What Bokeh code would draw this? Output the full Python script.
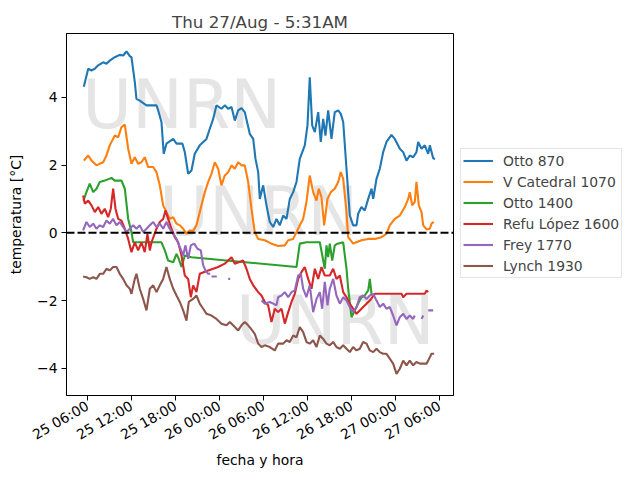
import numpy as np
from bokeh.plotting import figure
from bokeh.layouts import row, column
from bokeh.models import (Range1d, FixedTicker, DatetimeTickFormatter, Span, Legend,
                          LegendItem, CustomJSTickFormatter, Spacer)
from bokeh.core.properties import value
from bokeh.embed import file_html
from bokeh.resources import INLINE

TITLE = "Thu 27/Aug - 5:31AM"
BASE = np.datetime64("2020-08-25T00:00")
# times are hours since 25/Aug 00:00
names = ["Otto 870", "V Catedral 1070", "Otto 1400", "Refu López 1600", "Frey 1770", "Lynch 1930"]
colors = ["#1f77b4", "#ff7f0e", "#2ca02c", "#d62728", "#9467bd", "#8c564b"]

otto870_h = [5.50, 6.10, 6.55, 7.00, 7.46, 8.14, 8.59, 9.04, 9.72, 10.40, 10.87, 11.32, 11.77, 12.00, 12.45,
             12.68, 13.13, 14.05, 15.41, 15.64, 16.09, 16.40, 16.77, 17.69, 18.14, 18.95, 19.27, 19.73, 20.18,
             20.63, 21.31, 22.23, 22.68, 23.14, 23.59, 24.27, 24.72, 25.19, 25.64, 26.09, 26.55, 27.00, 27.45,
             28.13, 28.60, 28.91, 29.28, 29.50, 29.96, 30.41, 30.86, 31.32, 31.77, 32.22, 32.69, 33.14, 33.59,
             34.05, 34.50, 34.95, 35.63, 36.00, 36.31, 36.64, 37.00, 37.46, 37.81, 38.14, 38.45, 38.82, 39.27,
             39.72, 40.19, 40.54, 40.87, 41.32, 41.77, 42.23, 42.68, 42.91, 43.36, 43.81, 44.28, 44.73, 44.96,
             45.41, 45.86, 46.32, 46.77, 47.45, 47.90, 48.59, 49.05, 49.50, 49.95, 50.41, 50.86, 51.09, 51.55,
             52.00, 52.46, 52.68, 53.14, 53.39]
otto870_v = [4.31, 4.84, 4.79, 4.84, 4.94, 5.03, 4.99, 5.08, 5.18, 5.25, 5.23, 5.35, 5.21, 5.18, 4.45,
             3.95, 3.90, 3.76, 3.76, 3.61, 3.27, 2.33, 2.63, 2.77, 2.63, 2.63, 2.38, 1.74, 1.84,
             2.33, 2.58, 2.77, 3.07, 3.36, 3.76, 3.66, 3.76, 3.66, 3.71, 3.31, 3.61, 3.68, 3.56,
             2.92, 2.77, 2.18, 1.79, 1.00, 1.40, 0.81, 0.32, 0.17, 0.41, 0.22, 0.51, 0.41, 1.00,
             1.20, 1.50, 2.18, 2.58, 3.17, 4.59, 3.17, 2.97, 3.56, 2.68, 3.36, 2.87, 3.61, 2.77,
             3.56, 3.61, 3.51, 3.27, 1.89, 0.51, 0.22, 0.22, 0.56, 0.76, 0.66, 1.00, 1.30, 1.00,
             1.59, 1.89, 2.38, 2.68, 2.89, 2.77, 2.48, 2.38, 2.13, 2.28, 2.23, 2.38, 2.68, 2.48,
             2.58, 2.33, 2.58, 2.20, 2.18]

catedral_h = [5.50, 6.10, 6.55, 7.23, 7.68, 8.14, 8.59, 9.04, 9.72, 10.19, 10.64, 11.09, 11.55, 12.00, 12.45,
              12.91, 13.36, 13.81, 14.28, 14.96, 15.41, 15.86, 16.32, 16.77, 17.22, 17.69, 18.14, 18.59, 19.05,
              19.50, 19.95, 20.41, 20.86, 21.31, 22.00, 22.46, 22.91, 23.36, 23.82, 24.27, 24.72, 25.19, 25.64,
              26.09, 26.55, 27.00, 27.45, 27.91, 28.36, 28.81, 29.28, 30.18, 31.09, 32.00, 32.91, 33.37, 34.05,
              34.50, 34.95, 35.41, 35.86, 36.31, 36.77, 37.23, 37.54, 37.91, 38.27, 38.73, 39.18, 39.72, 40.19,
              40.54, 40.87, 41.32, 41.55, 42.23, 42.68, 43.36, 44.28, 45.18, 46.09, 46.77, 47.22, 47.90, 48.59,
              49.27, 49.73, 49.95, 50.28, 50.63, 50.86, 51.18, 51.55, 51.78, 52.23, 52.68, 52.91, 53.22]
catedral_v = [2.13, 2.28, 2.13, 1.99, 2.04, 2.08, 2.28, 2.58, 2.87, 2.82, 3.12, 3.19, 2.48, 2.04, 2.23,
              2.04, 2.08, 2.23, 1.94, 1.94, 1.79, 1.40, 0.81, 0.61, 0.41, 0.46, 0.27, 0.22, 0.12,
              -0.03, 0.07, 0.05, 0.22, 0.61, 1.20, 1.50, 1.74, 2.08, 1.89, 1.40, 1.69, 1.79, 1.99,
              1.89, 2.08, 1.99, 1.99, 1.50, 0.71, 0.02, -0.18, -0.22, -0.32, -0.39, -0.37, -0.22, -0.18,
              0.02, 0.22, 0.41, 0.91, 1.69, 1.20, 0.95, 1.30, 1.05, 0.22, 1.00, 1.20, 1.30, 1.50,
              1.79, 1.59, 0.61, -0.13, -0.32, -0.28, -0.22, -0.18, -0.18, -0.13, -0.03, 0.22, 0.41, 0.51,
              0.76, 1.00, 1.20, 0.81, 0.91, 1.50, 0.81, 0.61, 0.22, 0.10, 0.12, 0.27, 0.32]

otto1400_h = [5.45, 5.86, 6.31, 6.78, 7.23, 7.68, 8.36, 9.27, 9.72, 10.64, 11.09, 11.55, 12.00, 12.23, 13.36,
              16.09, 16.55, 17.00, 17.69, 18.14, 18.45, 18.82, 19.27, 20.18, 34.50, 34.95, 35.86, 37.68, 38.36,
              38.59, 38.82, 39.04, 39.37, 39.72, 40.09, 40.87, 41.32, 41.55, 42.00, 42.45, 42.91, 43.36, 43.81,
              44.28, 44.50, 44.73]
otto1400_v = [0.95, 1.20, 1.45, 1.20, 1.30, 1.50, 1.54, 1.62, 1.54, 1.54, 1.30, 0.41, 0.02, -0.28, -0.28,
              -0.28, -0.52, -0.82, -0.87, -0.62, -0.77, -1.01, -0.67, -0.72, -1.01, -0.32, -0.28, -0.28, -1.06,
              -0.37, -0.72, -0.32, -0.82, -0.37, -0.32, -0.28, -1.06, -1.65, -2.49, -2.29, -2.09, -1.90, -1.85,
              -1.70, -1.36, -1.80]

lopez_h = [5.41, 5.63, 6.10, 6.55, 7.00, 7.46, 7.91, 8.36, 8.82, 9.18, 9.50, 9.82, 10.19, 10.64, 11.09,
           11.55, 12.00, 12.45, 12.91, 13.36, 13.81, 14.18, 14.50, 14.73, 15.41, 15.86, 16.32, 16.64, 17.00,
           17.45, 17.90, 18.37, 18.82, 19.27, 19.73, 20.09, 20.41, 20.86, 21.31, 22.46, 23.82, 24.72, 25.64,
           26.09, 27.23, 27.68, 28.13, 28.60, 29.28, 29.73, 30.18, 30.64, 31.09, 31.54, 32.00, 32.45, 32.91,
           33.37, 33.82, 34.27, 34.73, 35.18, 35.63, 36.09, 36.55, 37.00, 37.46, 37.91, 38.36, 39.04, 39.50,
           39.95, 40.41, 40.87, 41.32, 41.77, 42.23, 42.68, 43.13, 43.59, 44.05, 44.50, 45.18, 48.82, 49.05,
           49.50, 52.00, 52.23, 52.46]
lopez_v = [1.10, 0.86, 0.95, 0.81, 0.61, 0.76, 0.56, 0.71, 0.46, 0.71, 1.30, 0.71, 0.41, 0.36, 0.12,
           -0.18, -0.57, -0.28, -0.52, -0.28, -0.57, -0.03, -0.52, -0.28, 0.12, 0.32, 0.41, 0.66, 0.41,
           0.12, -0.13, -0.28, -0.67, -1.26, -1.36, -1.90, -1.55, -1.75, -1.21, -1.11, -1.01, -0.91, -0.72,
           -0.91, -0.82, -1.06, -1.36, -1.55, -1.75, -1.85, -2.04, -2.14, -2.63, -2.24, -2.34, -2.24, -2.68,
           -2.34, -2.04, -1.80, -1.36, -1.16, -1.01, -1.36, -1.65, -1.06, -1.36, -1.01, -1.26, -1.26, -1.06,
           -1.36, -1.26, -1.75, -1.90, -2.09, -2.24, -2.39, -2.29, -2.19, -2.09, -2.00, -1.80, -1.80, -1.90,
           -1.80, -1.80, -1.70, -1.75]

frey_h = [5.41, 5.86, 6.31, 6.78, 7.23, 7.68, 8.14, 8.59, 9.04, 9.50, 9.95, 10.40, 10.87, 11.32, 11.77,
          12.23, 12.68, 13.13, 13.59, 14.05, 14.50, 14.96, 15.41, 15.86, 16.32, 16.77, 17.22, 17.69, 18.14,
          18.59, 19.05, 19.36, 19.73, 20.09, 20.55, 21.00, 21.45, 21.78, 22.09, 22.46, 22.73, 22.82, 22.91,
          23.63, 23.80, 25.19, 25.46, 26.00, 29.73, 30.18, 30.86, 31.32, 31.77, 32.00, 32.45, 32.91, 33.37,
          33.82, 34.27, 34.73, 35.09, 35.41, 35.86, 36.31, 36.77, 37.23, 37.68, 38.00, 38.36, 38.73, 39.04,
          39.50, 39.95, 40.41, 40.87, 41.32, 41.77, 42.23, 42.68, 43.13, 43.59, 44.05, 44.50, 44.96, 45.41,
          45.86, 46.32, 46.77, 47.22, 47.68, 48.14, 48.59, 49.05, 49.50, 49.95, 50.41, 50.63, 50.90, 51.55,
          51.78, 52.10, 52.46, 53.14]
frey_v = [0.07, 0.32, 0.17, 0.27, 0.12, 0.22, 0.17, 0.36, 0.27, 0.41, 0.22, 0.32, 0.17, 0.02, 0.12,
          0.22, 0.12, 0.22, 0.02, 0.12, 0.22, 0.32, 0.17, 0.27, 0.12, 0.32, 0.12, -0.03, -0.18,
          -0.42, -0.67, -0.37, -0.77, -0.37, -0.32, -0.47, -0.52, -0.96, -1.11, -1.21, -1.21, np.nan, -1.29,
          -1.29, np.nan, -1.36, -1.36, np.nan, -2.00, -2.09, -2.04, -2.09, -2.14, -1.90, -1.85, -1.75, -1.90,
          -1.75, -1.70, -1.26, -1.21, -1.65, -1.90, -1.55, -2.34, -1.95, -1.75, -2.24, -1.45, -2.14, -1.65,
          -1.36, -1.85, -2.09, -1.90, -2.00, -2.19, -2.34, -2.19, -1.90, -1.85, -1.95, -1.85, -1.80, -2.00,
          -2.19, -2.09, -2.24, -2.19, -2.44, -2.73, -2.49, -2.39, -2.54, -2.44, -2.54, -2.44, np.nan, -2.54,
          -2.44, np.nan, -2.29, -2.29]

lynch_h = [5.41, 5.86, 6.31, 6.78, 7.23, 7.68, 8.14, 8.59, 9.04, 9.50, 9.95, 10.40, 10.87, 11.32, 11.77,
           12.00, 12.45, 12.68, 13.13, 13.59, 14.05, 14.50, 14.96, 15.41, 15.86, 16.32, 16.77, 17.22, 17.69,
           18.14, 18.59, 19.05, 19.50, 19.81, 20.41, 20.86, 21.31, 21.78, 22.23, 22.91, 23.59, 24.27, 24.95,
           25.41, 26.09, 26.55, 27.00, 27.45, 27.91, 28.36, 28.81, 29.28, 29.73, 30.18, 30.86, 31.54, 32.00,
           32.69, 33.14, 33.59, 34.05, 34.50, 34.95, 35.41, 35.86, 36.31, 36.77, 37.23, 37.68, 38.14, 38.59,
           39.04, 39.50, 39.95, 40.41, 40.87, 41.32, 41.77, 42.23, 42.68, 43.13, 43.59, 44.05, 44.50, 44.96,
           45.41, 45.86, 46.32, 46.77, 47.22, 47.68, 48.14, 48.59, 49.05, 49.50, 49.95, 50.41, 50.86, 51.32,
           52.23, 52.46, 52.91, 53.27]
lynch_v = [-1.29, -1.31, -1.36, -1.31, -1.36, -1.21, -1.21, -1.06, -1.11, -1.01, -1.01, -1.21, -1.36, -1.55, -1.65,
           -1.80, -1.36, -1.21, -1.65, -1.95, -2.29, -1.65, -1.55, -1.75, -1.55, -1.36, -1.01, -1.36, -1.65,
           -1.85, -2.04, -2.29, -2.59, -2.04, -1.95, -1.85, -2.09, -2.24, -2.39, -2.44, -2.54, -2.68, -2.73,
           -2.63, -2.78, -2.88, -2.73, -2.63, -2.73, -2.85, -2.98, -3.27, -3.37, -3.32, -3.37, -3.47, -3.27,
           -3.27, -3.17, -3.22, -3.03, -3.08, -2.78, -2.93, -3.22, -3.27, -3.17, -3.37, -3.03, -3.13, -3.27,
           -3.32, -3.22, -3.37, -3.42, -3.32, -3.42, -3.52, -3.37, -3.47, -3.42, -3.22, -3.27, -3.47, -3.52,
           -3.42, -3.52, -3.57, -3.57, -3.71, -3.86, -4.16, -4.01, -3.77, -3.91, -3.77, -3.91, -3.81, -3.86,
           -3.86, -3.77, -3.57, -3.57]

series_h = [otto870_h, catedral_h, otto1400_h, lopez_h, frey_h, lynch_h]
series_v = [otto870_v, catedral_v, otto1400_v, lopez_v, frey_v, lynch_v]

x_tick_hours = [6, 12, 18, 24, 30, 36, 42, 48, 54]
y_ticks = [-4, -2, 0, 2, 4]
x_lim_hours = [3.14, 55.91]
y_lim = [-4.80, 5.88]

watermark_text = ["UNRN", "UNRN", "UNRN"]
watermark_h = [5.30, 15.80, 26.25]
watermark_y = [3.80, 0.62, -2.58]

EPOCH_MS = float((BASE - np.datetime64("1970-01-01T00:00")) / np.timedelta64(1, "ms"))


def to_ms(hours):
    return np.array([EPOCH_MS + h * 3600000.0 for h in hours])


FONT = "DejaVu Sans"
xl = to_ms(x_lim_hours)
p = figure(frame_width=387, frame_height=362, output_backend="svg", toolbar_location=None,
           x_range=Range1d(xl[0], xl[1]), y_range=Range1d(y_lim[0], y_lim[1]),
           min_border_left=0, min_border_right=1, min_border_top=0, min_border_bottom=0,
           x_axis_type="datetime")
p.title.text = TITLE
p.title.align = "center"
p.title.text_font = FONT
p.title.text_font_size = "16.7px"
p.title.text_font_style = "normal"
p.title.standoff = 4

p.xgrid.visible = False
p.ygrid.visible = False
p.outline_line_color = "black"
p.outline_line_width = 1
p.outline_line_alpha = 1

p.text(x=to_ms(watermark_h), y=watermark_y, text=watermark_text, text_font=value(FONT),
       text_font_size=value("68px"), text_color="#e5e5e5", text_align="left",
       text_baseline="alphabetic")

renderers = []
for h, v, c in zip(series_h, series_v, colors):
    r = p.line(to_ms(h), np.array(v, dtype=float), line_color=c, line_width=2.1)
    renderers.append(r)

p.add_layout(Span(location=0, dimension="width", line_color="black", line_width=2,
                  line_dash="8 3"))

# axes
xa = p.xaxis[0]
xa.ticker = FixedTicker(ticks=list(to_ms(x_tick_hours)))
fmt = "%d %H:%M"
xa.formatter = DatetimeTickFormatter(milliseconds=fmt, seconds=fmt, minsec=fmt, minutes=fmt,
                                     hourmin=fmt, hours=fmt, days=fmt, months=fmt, years=fmt)
xa.major_label_orientation = 0.5236
xa.axis_label = "fecha y hora"
ya = p.yaxis[0]
ya.ticker = FixedTicker(ticks=y_ticks)
ya.formatter = CustomJSTickFormatter(code="return tick.toFixed(0).replace('-', '\\u2212');")
ya.axis_label = "temperatura [°C]"
for ax in (xa, ya):
    ax.major_label_text_font = FONT
    ax.major_label_text_font_size = "13.9px"
    ax.major_label_text_color = "black"
    ax.axis_label_text_font = FONT
    ax.axis_label_text_font_size = "13.9px"
    ax.axis_label_text_font_style = "normal"
    ax.axis_label_text_color = "black"
    ax.major_tick_in = 0
    ax.major_tick_out = 5
    ax.minor_tick_in = 0
    ax.minor_tick_out = 0
    ax.axis_line_color = "black"
    ax.major_tick_line_color = "black"
    ax.major_label_standoff = 4
ya.axis_label_standoff = 10
xa.axis_label_standoff = 0

# legend lives in its own figure to the right of the plot
pl = figure(width=180, height=464, output_backend="svg", toolbar_location=None,
            x_axis_location=None, y_axis_location=None, min_border=0,
            x_range=Range1d(0, 1), y_range=Range1d(0, 1))
pl.outline_line_color = None
pl.xgrid.visible = False
pl.ygrid.visible = False
leg_renderers = [pl.line(x=[np.nan], y=[np.nan], line_color=c, line_width=2.1) for c in colors]
legend = Legend(items=[LegendItem(label=n, renderers=[r]) for n, r in zip(names, leg_renderers)],
                location=(6, 117))
legend.label_text_font = FONT
legend.label_text_font_size = "13.9px"
legend.glyph_width = 30
legend.glyph_height = 19
legend.label_height = 19
legend.label_standoff = 10
legend.spacing = 2
legend.padding = 2
legend.margin = 0
legend.border_line_color = "#cccccc"
legend.border_line_width = 1
legend.background_fill_alpha = 0.8
pl.add_layout(legend, "center")

layout = column(Spacer(height=7), row(Spacer(width=5), p, pl))
open("out.html", "w").write(file_html(layout, INLINE))
